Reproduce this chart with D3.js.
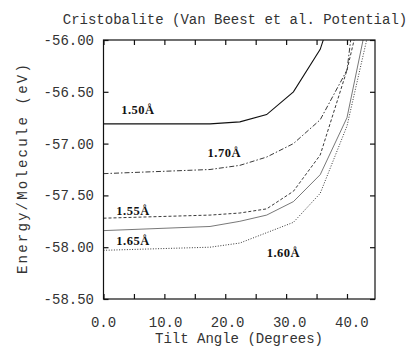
<!DOCTYPE html>
<html>
<head>
<meta charset="utf-8">
<script src="https://cdn.jsdelivr.net/npm/d3@7"></script>
<style>
  body { margin: 0; background: #fff; }
  svg { display: block; }
  .mono { font-family: "Liberation Mono", "DejaVu Sans Mono", monospace; fill: #333; }
  .tag { font-family: "Liberation Serif", "DejaVu Serif", serif; font-weight: bold; fill: #111; }
</style>
</head>
<body>
<svg id="chart" width="413" height="348"></svg>
<script>
// tilt angle (degrees) at which each curve was computed
const angles = [0, 17.5, 22.4, 26.8, 31.2, 35.6, 40.0, 44.4];

// energy per molecule (eV) for each Si-O bond length
const e150 = [-56.81, -56.81, -56.79, -56.72, -56.50, -56.09, -55.30, -54.50];
const e170 = [-57.29, -57.25, -57.21, -57.13, -57.00, -56.77, -56.29, -54.20];
const e155 = [-57.72, -57.69, -57.67, -57.63, -57.46, -57.11, -56.29, -55.20];
const e165 = [-57.84, -57.80, -57.75, -57.69, -57.56, -57.30, -56.75, -55.50];
const e160 = [-58.03, -58.00, -57.96, -57.86, -57.76, -57.48, -56.83, -55.70];

const bondLabels = ['1.50Å', '1.70Å', '1.55Å', '1.65Å', '1.60Å'];
// where each label sits, in data units (angle, energy)
const labelAngle = [2.9, 17.1, 2.1, 2.1, 26.8];
const labelEnergy = [-56.71, -57.13, -57.69, -57.98, -58.09];

const xTicks = [0, 10, 20, 30, 40];
const yTicks = [-56.0, -56.5, -57.0, -57.5, -58.0, -58.5];

const series = [e150, e170, e155, e165, e160];
const dashes = [null, '5,2,1.5,2', '3,2', null, '1,1.6'];
const widths = [1.1, 0.9, 0.9, 0.8, 0.9];
const strokes = ['#111', '#222', '#222', '#555', '#222'];

const svg = d3.select('#chart');
const plotLeft = 103.5, plotRight = 375, plotTop = 40, plotBottom = 299;

const x = d3.scaleLinear().domain([0, 44.6]).range([plotLeft, plotRight]);
const y = d3.scaleLinear().domain([-58.5, -56.0]).range([plotBottom, plotTop]);

svg.append('defs').append('clipPath').attr('id', 'plotClip')
    .append('rect')
    .attr('x', plotLeft).attr('y', plotTop)
    .attr('width', plotRight - plotLeft).attr('height', plotBottom - plotTop);

// curves
const line = d3.line()
    .x(function(d, i) { return x(angles[i]); })
    .y(function(d) { return y(d); });

svg.append('g')
    .attr('clip-path', 'url(#plotClip)')
    .selectAll('path')
    .data(series)
    .enter().append('path')
    .attr('fill', 'none')
    .attr('stroke', function(d, i) { return strokes[i]; })
    .attr('stroke-width', function(d, i) { return widths[i]; })
    .attr('stroke-dasharray', function(d, i) { return dashes[i]; })
    .attr('d', line);

// frame
svg.append('rect')
    .attr('x', plotLeft).attr('y', plotTop)
    .attr('width', plotRight - plotLeft).attr('height', plotBottom - plotTop)
    .attr('fill', 'none')
    .attr('stroke', '#111')
    .attr('stroke-width', 1.2);

// axes: ticks point inward
const minorX = d3.range(0, 45, 5);
const gx = svg.append('g').attr('transform', 'translate(0,' + plotBottom + ')')
    .call(d3.axisBottom(x).tickValues(minorX).tickSize(-5).tickFormat(''));
const gxTop = svg.append('g').attr('transform', 'translate(0,' + plotTop + ')')
    .call(d3.axisTop(x).tickValues(minorX).tickSize(-5).tickFormat(''));
const gy = svg.append('g').attr('transform', 'translate(' + plotLeft + ',0)')
    .call(d3.axisLeft(y).tickValues(yTicks).tickSize(-5).tickFormat(''));
const gyRight = svg.append('g').attr('transform', 'translate(' + plotRight + ',0)')
    .call(d3.axisRight(y).tickValues(yTicks).tickSize(-5).tickFormat(''));
[gx, gxTop, gy, gyRight].forEach(function(g) {
    g.select('.domain').remove();
    g.selectAll('line').attr('stroke', '#111').attr('stroke-width', 1.2);
});

// tick labels
svg.append('g').selectAll('text')
    .data(xTicks)
    .enter().append('text')
    .attr('class', 'mono')
    .attr('x', function(d) { return x(d) + d * 0.12; })
    .attr('y', 327)
    .attr('text-anchor', 'middle')
    .attr('font-size', 14)
    .text(function(d) { return d.toFixed(1); });

svg.append('g').selectAll('text')
    .data(yTicks)
    .enter().append('text')
    .attr('class', 'mono')
    .attr('x', 94)
    .attr('y', function(d) { return y(d); })
    .attr('dy', '0.35em')
    .attr('text-anchor', 'end')
    .attr('font-size', 14)
    .text(function(d) { return d.toFixed(2); });

// titles
svg.append('text')
    .attr('class', 'mono')
    .attr('x', 235).attr('y', 24)
    .attr('text-anchor', 'middle')
    .attr('font-size', 14)
    .text('Cristobalite (Van Beest et al. Potential)');

svg.append('text')
    .attr('class', 'mono')
    .attr('x', 239).attr('y', 343)
    .attr('text-anchor', 'middle')
    .attr('font-size', 14)
    .text('Tilt Angle (Degrees)');

svg.append('text')
    .attr('class', 'mono')
    .attr('transform', 'translate(27,168) rotate(-90)')
    .attr('text-anchor', 'middle')
    .attr('font-size', 14)
    .attr('letter-spacing', 2.2)
    .text('Energy/Molecule (eV)');

// curve labels
svg.append('g').selectAll('text')
    .data(bondLabels)
    .enter().append('text')
    .attr('class', 'tag')
    .attr('x', function(d, i) { return x(labelAngle[i]); })
    .attr('y', function(d, i) { return y(labelEnergy[i]); })
    .attr('font-size', 12.5)
    .attr('letter-spacing', 0.5)
    .text(function(d) { return d; });
</script>
</body>
</html>
